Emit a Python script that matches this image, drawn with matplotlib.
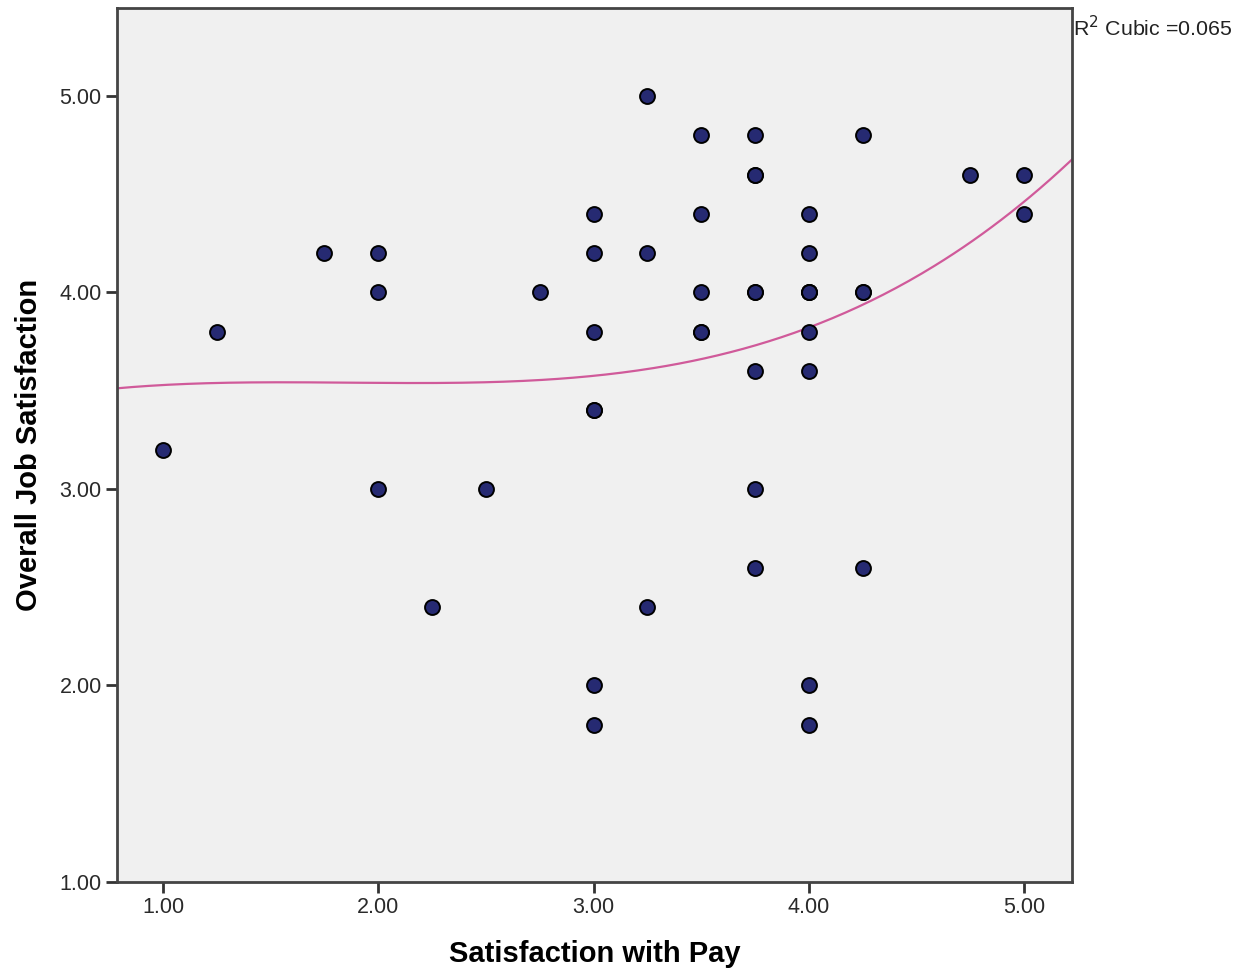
import numpy as np
import matplotlib.pyplot as plt

plt.rcParams['font.family'] = ['Liberation Sans', 'DejaVu Sans']

# Satisfaction with Pay (x) vs Overall Job Satisfaction (y)
pay = [1.00, 1.25, 1.75,
       2.00, 2.00, 2.00, 2.25, 2.50, 2.75,
       3.00, 3.00, 3.00, 3.00, 3.00, 3.00, 3.00,
       3.25, 3.25, 3.25,
       3.50, 3.50, 3.50, 3.50, 3.50,
       3.75, 3.75, 3.75, 3.75, 3.75, 3.75, 3.75, 3.75,
       4.00, 4.00, 4.00, 4.00, 4.00, 4.00, 4.00, 4.00, 4.00,
       4.25, 4.25, 4.25, 4.25,
       4.75, 5.00, 5.00]
job = [3.2, 3.8, 4.2,
       4.2, 4.0, 3.0, 2.4, 3.0, 4.0,
       4.4, 4.2, 3.8, 3.4, 3.4, 2.0, 1.8,
       5.0, 4.2, 2.4,
       4.8, 4.4, 4.0, 3.8, 3.8,
       4.8, 4.6, 4.6, 4.0, 4.0, 3.6, 3.0, 2.6,
       4.4, 4.2, 4.0, 4.0, 4.0, 3.8, 3.6, 2.0, 1.8,
       4.8, 4.0, 4.0, 2.6,
       4.6, 4.6, 4.4]

x = np.array(pay)
y = np.array(job)
# cubic fit line
coef = np.polyfit(x, y, 3)

fig = plt.figure(figsize=(12.33, 9.72), dpi=100)
ax = fig.add_axes([0.0949, 0.0926, 0.7745, 0.8992])
ax.set_facecolor('#f0f0f0')

xlo, xhi = 0.786, 5.223
xs = np.linspace(xlo, xhi, 300)
ax.plot(xs, np.polyval(coef, xs), color='#d05a9a', lw=1.6, zorder=2)
ax.scatter(x, y, s=115, color='#262a72', edgecolor='black', linewidth=1.4, zorder=3)

ax.set_xlim(xlo, xhi)
ax.set_ylim(1.0, 5.448)
ax.set_xticks([1, 2, 3, 4, 5])
ax.set_yticks([1, 2, 3, 4, 5])
ax.xaxis.set_major_formatter(lambda v, p: f'{v:.2f}')
ax.yaxis.set_major_formatter(lambda v, p: f'{v:.2f}')
ax.tick_params(length=8, width=2, color='#333333', labelsize=15.5, labelcolor='#2a2a2a', pad=3)
for s in ax.spines.values():
    s.set_color('#444444')
    s.set_linewidth(2)

ax.set_xlabel('Satisfaction with Pay', fontsize=21, fontweight='bold', labelpad=16)
ax.set_ylabel('Overall Job Satisfaction', fontsize=21, fontweight='bold', labelpad=12)

fig.text(0.8702, 0.972, 'R$^2$ Cubic =0.065', fontsize=15.4, color='#222222', va='center', ha='left')

fig.savefig('out.png', dpi=100, facecolor='white')
